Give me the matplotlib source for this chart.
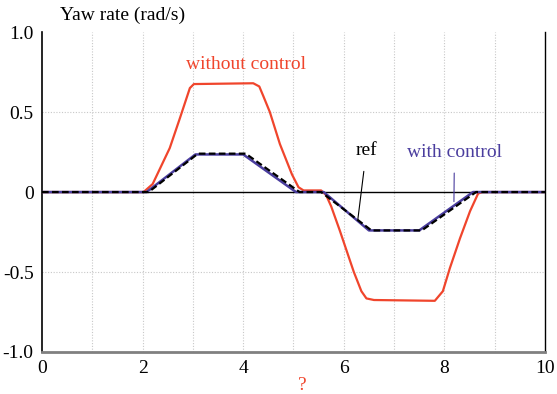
import matplotlib.pyplot as plt
import numpy as np

plt.rcParams['font.family'] = ['Liberation Serif', 'DejaVu Serif']

# breakpoints
t_wo = [0, 2.02, 2.2, 2.54, 2.74, 2.94, 3.02, 4.2, 4.32, 4.4, 4.53, 4.73, 4.97, 5.1, 5.2, 5.55, 5.65, 5.75, 5.92, 6.2, 6.35, 6.45, 6.6, 7.81, 7.97, 8.11, 8.31, 8.51, 8.67, 8.75, 10]
y_wo = [0, 0, 0.05, 0.275, 0.46, 0.65, 0.675, 0.68, 0.66, 0.6, 0.5, 0.3, 0.11, 0.03, 0.01, 0.01, -0.02, -0.09, -0.24, -0.5, -0.62, -0.665, -0.675, -0.68, -0.62, -0.475, -0.29, -0.12, -0.01, 0, 0]

t_wc = [0, 2.08, 3.05, 4.0, 5.05, 5.6, 6.5, 7.5, 8.57, 10]
y_wc = [0, 0, 0.235, 0.235, 0, 0, -0.24, -0.24, 0, 0]

t_ref = [0, 2.12, 3.1, 4.05, 5.12, 5.55, 6.55, 7.55, 8.63, 10]
y_ref = [0, 0, 0.24, 0.24, 0, 0, -0.24, -0.24, 0, 0]

red = '#f0452c'
blue = '#4a3d9e'

fig = plt.figure(figsize=(5.57, 3.94), dpi=100)
ax = fig.add_axes([0.0754, 0.1066, 0.903, 0.812])

ax.set_xlim(0, 10)
ax.set_ylim(-1, 1)

for x in range(1, 10):
    ax.axvline(x, color='#c8c8c8', lw=0.8, ls=(0, (1, 1.5)), zorder=0)
for y in [0.5, -0.5]:
    ax.axhline(y, color='#c8c8c8', lw=0.8, ls=(0, (1, 1.5)), zorder=0)
ax.axhline(0, color='black', lw=1.0, zorder=1)

ax.plot(t_wo, y_wo, color=red, lw=1.6, zorder=3)
ax.plot(t_wc, y_wc, color=blue, lw=1.8, zorder=4)
ax.plot(t_ref, y_ref, color='black', lw=1.6, ls=(0, (3, 1.5)), zorder=5)

ax.set_xticks(range(0, 11, 2))
ax.set_xticklabels([str(v) for v in range(0, 11, 2)])
ax.set_yticks([1.0, 0.5, 0, -0.5, -1.0])
ax.set_yticklabels(['1.0', '0.5', '0', '-0.5', '-1.0'])
ax.tick_params(length=0, labelsize=14, pad=6)
ax.tick_params(axis='x', pad=6)

ax.spines['top'].set_visible(False)
ax.spines['left'].set_color('black')
ax.spines['left'].set_linewidth(1.2)
ax.spines['right'].set_color('black')
ax.spines['right'].set_linewidth(1.0)
ax.spines['bottom'].set_color('#808080')
ax.spines['bottom'].set_linewidth(2.0)

ax.text(4.06, 0.80, 'without control', color=red, fontsize=14, ha='center', va='center')
ax.annotate('ref', xy=(6.28, -0.17), xytext=(6.45, 0.26), fontsize=14, ha='center', va='center',
            arrowprops=dict(arrowstyle='-', color='black', lw=0.8, shrinkA=7, shrinkB=0))
ax.annotate('with control', xy=(8.19, -0.06), xytext=(8.2, 0.25), fontsize=14, color=blue,
            ha='center', va='center',
            arrowprops=dict(arrowstyle='-', color=blue, lw=0.8, shrinkA=7, shrinkB=0))

fig.text(0.108, 0.962, 'Yaw rate (rad/s)', fontsize=14, ha='left', va='center')
fig.text(302 / 557, 1 - 385 / 394, '?', color=red, fontsize=14, ha='center', va='center')

fig.savefig('out.png', dpi=100)
